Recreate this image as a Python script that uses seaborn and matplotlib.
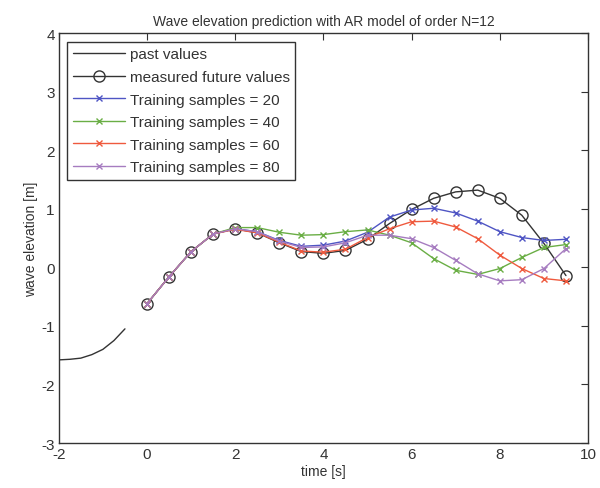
import numpy as np
import pandas as pd
import matplotlib
matplotlib.use("Agg")
import matplotlib.pyplot as plt
import seaborn as sns

# ---- data ----
past_t = [-2.0, -1.75, -1.5, -1.25, -1.0, -0.75, -0.5]
past_y = [-1.58, -1.57, -1.55, -1.49, -1.40, -1.25, -1.05]

future_t = [0.0, 0.5, 1.0, 1.5, 2.0, 2.5, 3.0, 3.5, 4.0, 4.5,
            5.0, 5.5, 6.0, 6.5, 7.0, 7.5, 8.0, 8.5, 9.0, 9.5]
measured = [-0.62, -0.16, 0.27, 0.57, 0.66, 0.59, 0.42, 0.27, 0.24, 0.29,
            0.48, 0.75, 0.99, 1.18, 1.29, 1.32, 1.18, 0.89, 0.41, -0.14]

pred_20 = [-0.62, -0.16, 0.27, 0.57, 0.66, 0.61, 0.46, 0.36, 0.38, 0.45,
           0.60, 0.86, 0.98, 1.01, 0.93, 0.79, 0.61, 0.51, 0.46, 0.48]
pred_40 = [-0.62, -0.16, 0.27, 0.57, 0.68, 0.68, 0.60, 0.55, 0.56, 0.61,
           0.64, 0.55, 0.42, 0.15, -0.05, -0.12, -0.02, 0.17, 0.34, 0.39]
pred_60 = [-0.62, -0.16, 0.27, 0.57, 0.65, 0.59, 0.43, 0.28, 0.26, 0.31,
           0.51, 0.66, 0.78, 0.79, 0.69, 0.49, 0.21, -0.02, -0.19, -0.23]
pred_80 = [-0.62, -0.16, 0.27, 0.57, 0.66, 0.61, 0.45, 0.34, 0.35, 0.42,
           0.55, 0.55, 0.49, 0.34, 0.12, -0.11, -0.23, -0.21, -0.02, 0.32]

series_labels = ["Training samples = 20", "Training samples = 40",
                 "Training samples = 60", "Training samples = 80"]
series_values = [pred_20, pred_40, pred_60, pred_80]
series_colors = ["#4f55c4", "#6aae45", "#ef5a3e", "#a67cc0"]

x_ticks = [-2, 0, 2, 4, 6, 8, 10]
y_ticks = [-3, -2, -1, 0, 1, 2, 3, 4]

# ---- plot ----
sns.set_theme(style="white")
plt.rcParams['font.family'] = ['Liberation Sans', 'DejaVu Sans']
plt.rcParams['axes.unicode_minus'] = False

fig = plt.figure(figsize=(6.0, 4.89), dpi=100)
ax = fig.add_axes([0.098, 0.092, 0.882, 0.838])

sns.lineplot(x=past_t, y=past_y, ax=ax, color="#333333", linewidth=1.0,
             label="past values")
sns.lineplot(x=future_t, y=measured, ax=ax, color="#333333", linewidth=1.0,
             marker="o", markersize=8, markerfacecolor="none",
             markeredgecolor="#333333", markeredgewidth=1.0,
             label="measured future values")
for lab, vals, col in zip(series_labels, series_values, series_colors):
    sns.lineplot(x=future_t, y=vals, ax=ax, color=col, linewidth=1.0,
                 marker="x", markersize=5, markeredgewidth=1.0,
                 markeredgecolor=col, label=lab)

ax.set_xlim(-2, 10)
ax.set_ylim(-3, 4)
ax.set_xticks(x_ticks)
ax.set_yticks(y_ticks)
ax.tick_params(direction="in", length=5, width=0.8, top=True, right=True,
               labelsize=11, colors="#333333", pad=3)
for s in ax.spines.values():
    s.set_visible(True)
    s.set_color("#333333")
    s.set_linewidth(1.0)

ax.set_xlabel("time [s]", fontsize=10, color="#333333", labelpad=2)
ax.set_ylabel("wave elevation [m]", fontsize=10, color="#333333", labelpad=2)
ax.set_title("Wave elevation prediction with AR model of order N=12",
             fontsize=10, color="#333333", pad=6)

leg = ax.legend(loc="upper left", fontsize=11, frameon=True, fancybox=False,
                framealpha=1, edgecolor="#333333", handlelength=3.4,
                labelspacing=0.56, borderpad=0.38, handletextpad=0.3,
                borderaxespad=0.55, numpoints=1)
leg.get_frame().set_linewidth(1.0)
for t in leg.get_texts():
    t.set_color("#333333")

fig.savefig("out.png", dpi=100)
